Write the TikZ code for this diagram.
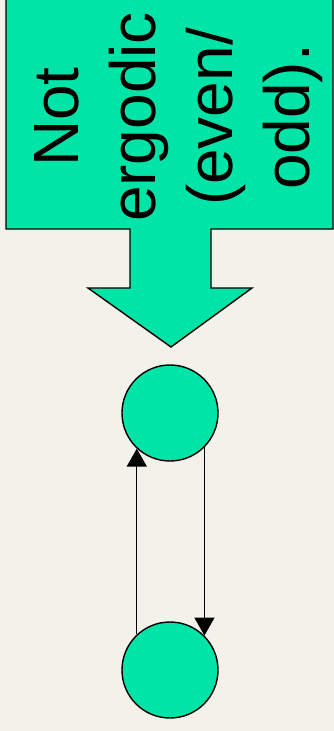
\documentclass[tikz,border=0pt]{standalone}
\usepackage{fontspec}
\setmainfont{Liberation Sans}
\usetikzlibrary{arrows.meta}
\definecolor{bg}{RGB}{243,242,234}
\definecolor{teal}{RGB}{0,228,168}
\tikzset{
  callout/.style={fill=teal,draw=black,line width=1.4pt,line join=miter},
  state/.style={circle,fill=teal,draw=black,line width=1.4pt,minimum size=96pt,inner sep=0pt},
  link/.style={draw=black,line width=1.4pt,-{Triangle[width=20pt,length=18pt]}},
  label/.style={rotate=90,align=center,inner sep=0pt,font=\fontsize{64}{77}\selectfont}
}
\begin{document}
\begin{tikzpicture}[x=1pt,y=-1pt]
\useasboundingbox (0,0) rectangle (334,731);
\fill[bg] (0,0) rectangle (334,731);
\draw[callout] (6,-5) -- (333,-5) -- (333,229) -- (211,229) -- (211,288) -- (252,288)
  -- (171,347) -- (88,288) -- (130,288) -- (130,229) -- (6,229) -- cycle;
\node[label] (txt) at (178.4,117) {Not\\ergodic\\(even/\\odd).};
\node[state] (top) at (170,413) {};
\node[state] (bot) at (170,670) {};
\draw[link] (bot.133) -- (top.227);
\draw[link] (top.-45) -- (bot.45);
\end{tikzpicture}
\end{document}
